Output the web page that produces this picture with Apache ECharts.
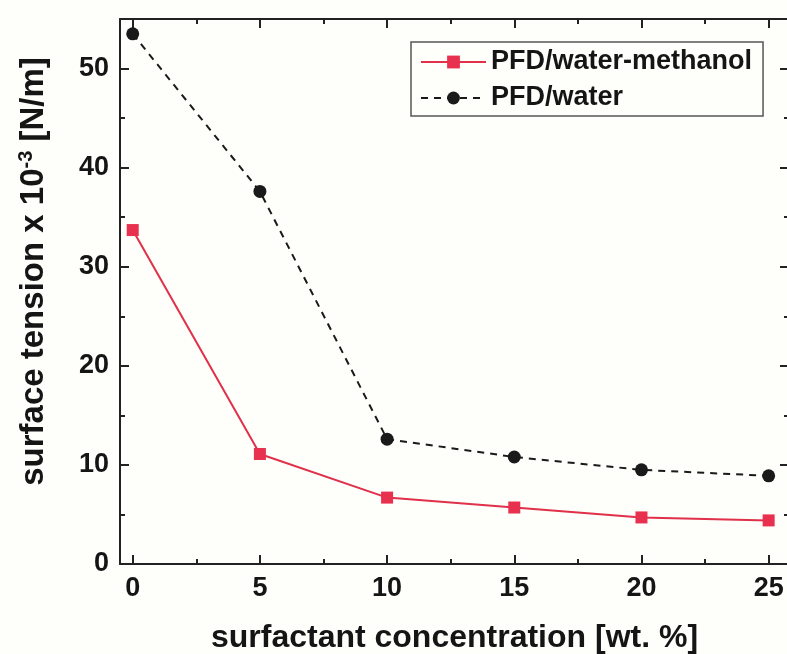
<!DOCTYPE html>
<html><head><meta charset="utf-8">
<script src="https://cdn.jsdelivr.net/npm/echarts@6/dist/echarts.min.js"></script>
<style>html,body{margin:0;padding:0;background:#fefefb}#c{width:787px;height:654px}</style>
</head><body><div id="c"></div>
<script>
var concentrations = [0, 5, 10, 15, 20, 25];
var waterMethanol = [33.7, 11.1, 6.7, 5.7, 4.7, 4.4];
var water = [53.5, 37.6, 12.6, 10.8, 9.5, 8.9];
var xTicks = [0, 5, 10, 15, 20, 25];
var xMinorTicks = [2.5, 7.5, 12.5, 17.5, 22.5];
var yTicks = [0, 10, 20, 30, 40, 50];
var yMinorTicks = [5, 15, 25, 35, 45];

var font = 'Liberation Sans, Arial, sans-serif';
var ink = '#151515';
function pairs(xs, ys){ return xs.map(function(x,i){return [x, ys[i]];}); }
var XMIN = -0.5, XMAX = 25.8, YMIN = 0, YMAX = 55;
function xAx(pos, ticks, len, showLine, labels){
  return {
    type:'value', min:XMIN, max:XMAX, position:pos,
    axisLine:{show:showLine, onZero:false, lineStyle:{color:'#222', width:2}},
    axisTick:{show:true, inside:true, length:len, customValues:ticks, lineStyle:{color:'#222', width:2}},
    splitLine:{show:false},
    axisLabel: labels ? {show:true, customValues:ticks, fontFamily:font, fontSize:27, fontWeight:'bold', color:ink, margin:11}
                      : {show:false}
  };
}
function yAx(pos, ticks, len, showLine, labels){
  return {
    type:'value', min:YMIN, max:YMAX, position:pos,
    axisLine:{show:showLine, onZero:false, lineStyle:{color:'#222', width:2}},
    axisTick:{show:true, inside:true, length:len, customValues:ticks, lineStyle:{color:'#222', width:2}},
    splitLine:{show:false},
    axisLabel: labels ? {show:true, customValues:ticks, fontFamily:font, fontSize:27, fontWeight:'bold', color:ink, margin:11}
                      : {show:false}
  };
}
var xMain = xAx('bottom', xTicks, 9, true, true);
xMain.name = 'surfactant concentration [wt. %]';
xMain.nameLocation = 'middle';
xMain.nameGap = 58;
xMain.nameTextStyle = {fontFamily:font, fontSize:32, fontWeight:'bold', color:ink};
var yMain = yAx('left', yTicks, 9, true, true);
yMain.name = '{a|surface tension x 10}{s|-3}{a| [N/m]}';
yMain.nameLocation = 'middle';
yMain.nameGap = 68;
yMain.nameTextStyle = {fontFamily:font, fontSize:33, fontWeight:'bold', color:ink, padding:[0,0,0,40],
  rich:{a:{fontFamily:font, fontSize:33, fontWeight:'bold', color:ink},
        s:{fontFamily:font, fontSize:20, fontWeight:'bold', color:ink, verticalAlign:'top', padding:[0,0,16,0]}}};

var chart = echarts.init(document.getElementById('c'));
chart.setOption({
  backgroundColor:'#fefefb',
  animation:false,
  grid:{left:120, top:19, right:-2, bottom:90, containLabel:false, outerBoundsMode:'none'},
  legend:{
    left:411, top:42, orient:'vertical', itemWidth:65, itemHeight:16, itemGap:4,
    padding:[4,11,2,9], borderColor:'#555', borderWidth:1.5, backgroundColor:'#fefefb',
    textStyle:{fontFamily:font, fontSize:27, fontWeight:'bold', color:ink, lineHeight:32},
    data:['PFD/water-methanol','PFD/water']
  },
  xAxis:[xMain, xAx('top', xTicks, 9, true, false), xAx('bottom', xMinorTicks, 5, false, false), xAx('top', xMinorTicks, 5, false, false)],
  yAxis:[yMain, yAx('right', yTicks, 9, true, false), yAx('left', yMinorTicks, 5, false, false), yAx('right', yMinorTicks, 5, false, false)],
  series:[{
    name:'PFD/water-methanol', type:'line', data:pairs(concentrations, waterMethanol),
    symbol:'rect', symbolSize:12, itemStyle:{color:'#e8304f'},
    lineStyle:{color:'#e0304a', width:2}
  },{
    name:'PFD/water', type:'line', data:pairs(concentrations, water),
    symbol:'circle', symbolSize:13, itemStyle:{color:'#1a1a1a'},
    lineStyle:{color:'#1a1a1a', width:2, type:[7,6]}
  }]
});
</script></body></html>
